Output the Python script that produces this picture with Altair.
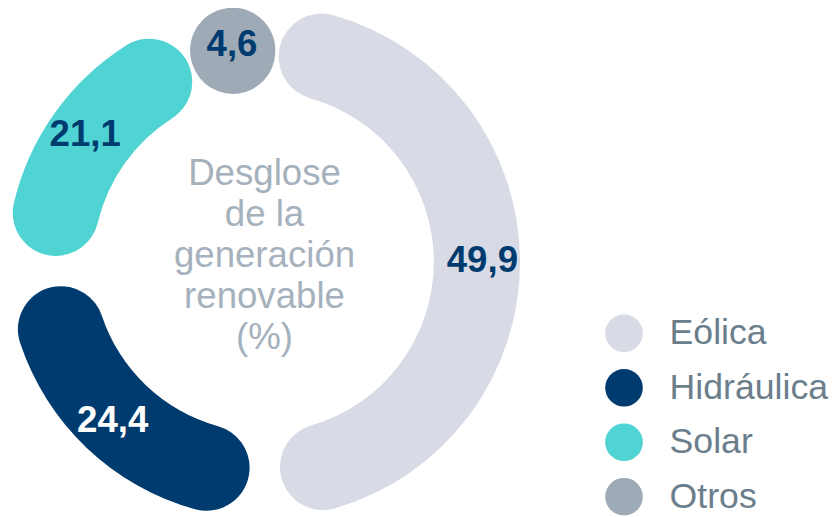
import math
import pandas as pd
import altair as alt

# ---- data ----
categories = ["Eólica", "Hidráulica", "Solar", "Otros"]
values = [49.9, 24.4, 21.1, 4.6]
labels = ["49,9", "24,4", "21,1", "4,6"]
colors = ["#d8dbe5", "#003b6f", "#50d3d3", "#9eabb6"]
center_lines = ["Desglose", "de la", "generación", "renovable", "(%)"]

# ---- style constants ----
CX, CY = 258, 254          # ring centre (plot coords)
R_OUT, R_IN = 259, 172
TRIM = 4.2                 # degrees trimmed from each end of a slice
MIN_SPAN = 23.0            # smallest drawn span (round cap)
ROT = 0.0                  # rotation in degrees

total = sum(values)
rows = []
cum = 0.0
for cat, v, lab in zip(categories, values, labels):
    s = cum / total * 360 + ROT
    e = (cum + v) / total * 360 + ROT
    cum += v
    mid = (s + e) / 2
    a0, a1 = s + TRIM, e - TRIM
    if a1 - a0 < MIN_SPAN:
        a0, a1 = mid - MIN_SPAN / 2, mid + MIN_SPAN / 2
    rows.append(dict(cat=cat, value=v, a0=a0, a1=a1, mid=mid, label=lab))
df = pd.DataFrame(rows)

theta_scale = alt.Scale(domain=[0, 360], range=[0, 2 * math.pi])

arcs = alt.Chart(df).mark_arc(
    radius=R_OUT, radius2=R_IN, cornerRadius=(R_OUT - R_IN) / 2
).encode(
    theta=alt.Theta("a0:Q", scale=theta_scale, stack=None),
    theta2="a1:Q",
    color=alt.Color(
        "cat:N",
        scale=alt.Scale(domain=categories, range=colors),
        legend=alt.Legend(
            title=None, orient="none", legendX=603, legendY=307,
            symbolType="circle", symbolSize=1444, symbolStrokeWidth=0,
            labelFontSize=36, labelFont="Liberation Sans", labelColor="#6b7e8c",
            labelOffset=27, rowPadding=17, padding=0, labelLimit=400,
        ),
    ),
    x=alt.value(CX),
    y=alt.value(CY),
)

text = alt.Chart(df).mark_text(
    radius=221, font="Liberation Sans", fontSize=37,
    fontWeight="bold", align="center", baseline="middle",
).encode(
    theta=alt.Theta("mid:Q", scale=theta_scale, stack=None),
    text="label:N",
    color=alt.condition("datum.cat === 'Hidráulica'", alt.value("#ffffff"), alt.value("#003b6f")),
    x=alt.value(CX),
    y=alt.value(CY),
)

center_df = pd.DataFrame({"t": ["\n".join(center_lines)]})
center = alt.Chart(center_df).mark_text(
    font="Liberation Sans", fontSize=37, lineHeight=41.5, lineBreak="\n",
    color="#a5b1bc", align="center", baseline="middle",
).encode(
    text="t:N",
    x=alt.value(259),
    y=alt.value(165),
)

chart = alt.layer(arcs, text, center).properties(
    width=830, height=509, padding=0, autosize="none", background="white"
).configure_view(stroke=None)

chart.save("out.html", embed_options={"renderer": "svg", "actions": False})
